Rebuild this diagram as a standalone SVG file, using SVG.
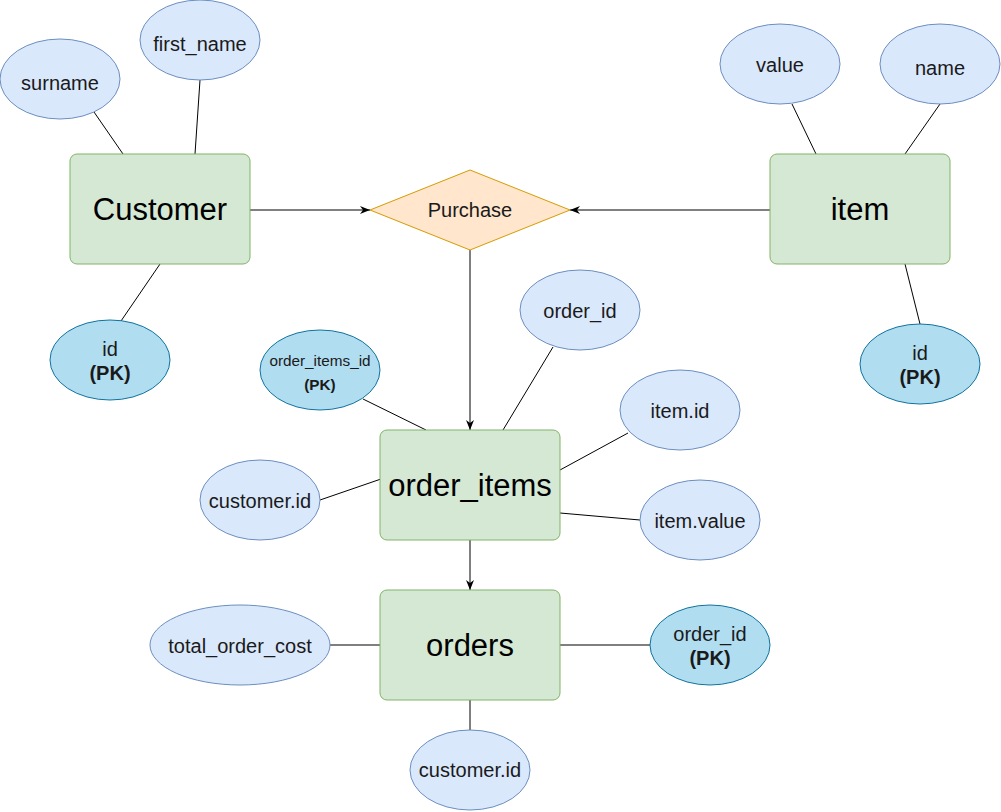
<svg xmlns="http://www.w3.org/2000/svg" width="1001" height="812" viewBox="0 0 1001 812">
<defs>
<marker id="arr" markerUnits="userSpaceOnUse" markerWidth="10" markerHeight="8" refX="10" refY="4" orient="auto">
<path d="M0,0 L10,4 L0,8 L3,4 z" fill="#000"/>
</marker>
<style>
.ent{fill:#d5e8d4;stroke:#82b366;stroke-width:1}
.att{fill:#dae8fc;stroke:#6c8ebf;stroke-width:1}
.pk{fill:#b1ddf0;stroke:#10739e;stroke-width:1}
.rel{fill:#ffe6cc;stroke:#d79b00;stroke-width:1}
.t{font-family:"Liberation Sans",Arial,sans-serif;text-anchor:middle;fill:#1a1a1a}
.a{font-size:20px}
.e{font-size:31px;fill:#000}
.s{font-size:15.3px}
.b{font-weight:bold}
.ln{stroke:#000;stroke-width:1;fill:none}
</style>
</defs>
<rect width="1001" height="812" fill="#fff"/>
<g id="connectors">
<line class="ln" x1="94" y1="112" x2="123" y2="154"/>
<line class="ln" x1="200" y1="80" x2="195" y2="154"/>
<line class="ln" x1="160" y1="264" x2="121" y2="321"/>
<line class="ln" x1="792" y1="104" x2="816" y2="154"/>
<line class="ln" x1="940" y1="104" x2="905" y2="154"/>
<line class="ln" x1="905" y1="264" x2="920" y2="324"/>
<line class="ln" x1="250" y1="210" x2="370" y2="210" marker-end="url(#arr)"/>
<line class="ln" x1="770" y1="210" x2="570" y2="210" marker-end="url(#arr)"/>
<line class="ln" x1="470" y1="250" x2="470" y2="430" marker-end="url(#arr)"/>
<line class="ln" x1="363" y1="399" x2="426" y2="430"/>
<line class="ln" x1="553" y1="347" x2="503" y2="430"/>
<line class="ln" x1="628" y1="433" x2="560" y2="470"/>
<line class="ln" x1="560" y1="513" x2="640" y2="520"/>
<line class="ln" x1="320" y1="500" x2="381" y2="479"/>
<line class="ln" x1="470" y1="540" x2="470" y2="590" marker-end="url(#arr)"/>
<line class="ln" x1="330" y1="645" x2="380" y2="645"/>
<line class="ln" x1="560" y1="645" x2="650" y2="645"/>
<line class="ln" x1="470" y1="700" x2="470" y2="730"/>
</g>
<g id="customer">
<rect class="ent" x="70" y="154" width="180" height="110" rx="7"/>
<text class="t e" x="160" y="220">Customer</text>
</g>
<g id="surname">
<ellipse class="att" cx="60" cy="79" rx="60" ry="40"/>
<text class="t a" x="60" y="89.5">surname</text>
</g>
<g id="first_name">
<ellipse class="att" cx="200" cy="40" rx="60" ry="40"/>
<text class="t a" x="200" y="50.5">first_name</text>
</g>
<g id="customer_id">
<ellipse class="pk" cx="110" cy="360" rx="60" ry="40"/>
<text class="t a" x="110" y="356">id</text>
<text class="t a b" x="110" y="380">(PK)</text>
</g>
<g id="item">
<rect class="ent" x="770" y="154" width="180" height="110" rx="7"/>
<text class="t e" x="860" y="220">item</text>
</g>
<g id="value">
<ellipse class="att" cx="780" cy="64" rx="60" ry="40"/>
<text class="t a" x="780" y="72">value</text>
</g>
<g id="name">
<ellipse class="att" cx="940" cy="64" rx="60" ry="40"/>
<text class="t a" x="940" y="75">name</text>
</g>
<g id="item_id">
<ellipse class="pk" cx="920" cy="364" rx="60" ry="40"/>
<text class="t a" x="920" y="360">id</text>
<text class="t a b" x="920" y="384">(PK)</text>
</g>
<g id="purchase">
<polygon class="rel" points="470,170 570,210 470,250 370,210"/>
<text class="t a" x="470" y="217">Purchase</text>
</g>
<g id="order_items">
<rect class="ent" x="380" y="430" width="180" height="110" rx="7"/>
<text class="t e" x="470" y="496">order_items</text>
</g>
<g id="order_items_id">
<ellipse class="pk" cx="320" cy="370" rx="60" ry="40"/>
<text class="t s" x="320" y="366">order_items_id</text>
<text class="t s b" x="320" y="390">(PK)</text>
</g>
<g id="oi_order_id">
<ellipse class="att" cx="580" cy="310" rx="60" ry="40"/>
<text class="t a" x="580" y="318">order_id</text>
</g>
<g id="oi_item_id">
<ellipse class="att" cx="680" cy="410" rx="60" ry="40"/>
<text class="t a" x="680" y="418">item.id</text>
</g>
<g id="oi_item_value">
<ellipse class="att" cx="700" cy="520" rx="60" ry="40"/>
<text class="t a" x="700" y="528">item.value</text>
</g>
<g id="oi_customer_id">
<ellipse class="att" cx="260" cy="500" rx="60" ry="40"/>
<text class="t a" x="260" y="508">customer.id</text>
</g>
<g id="orders">
<rect class="ent" x="380" y="590" width="180" height="110" rx="7"/>
<text class="t e" x="470" y="656">orders</text>
</g>
<g id="total_order_cost">
<ellipse class="att" cx="240" cy="645" rx="90" ry="40"/>
<text class="t a" x="240" y="653">total_order_cost</text>
</g>
<g id="orders_order_id">
<ellipse class="pk" cx="710" cy="645" rx="60" ry="40"/>
<text class="t a" x="710" y="641">order_id</text>
<text class="t a b" x="710" y="665">(PK)</text>
</g>
<g id="orders_customer_id">
<ellipse class="att" cx="470" cy="770" rx="60" ry="40"/>
<text class="t a" x="470" y="777">customer.id</text>
</g>
</svg>
